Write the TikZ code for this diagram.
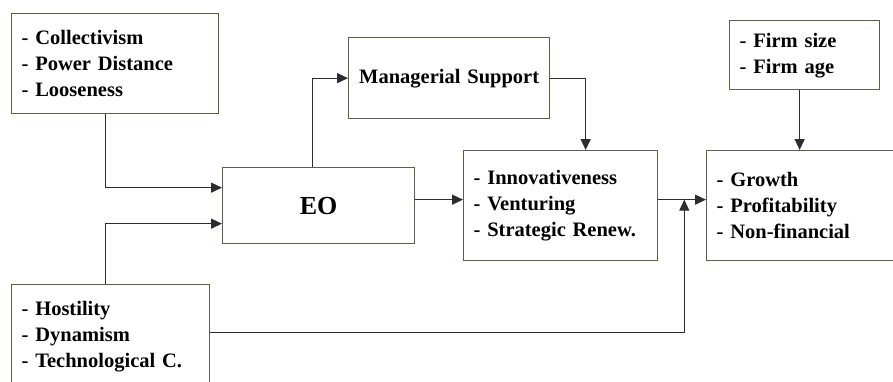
\documentclass[tikz,border=0pt]{standalone}
\usepackage{fontspec}
\setmainfont{Liberation Serif}
\definecolor{boxline}{RGB}{95, 95, 65}
\definecolor{linkgray}{RGB}{45, 45, 45}
\usepackage{tikz}
\usetikzlibrary{arrows.meta, positioning}

\begin{document}
\begin{tikzpicture}[x=1pt, y=-1pt,
  box/.style={draw=boxline, line width=1.3pt, anchor=north west, inner xsep=10pt, inner ysep=0pt,
    font=\fontsize{20.5}{26}\selectfont\bfseries, align=left},
  link/.style={draw=linkgray, line width=1.3pt, -{Triangle[length=11pt, width=10pt]}}]
  \clip (0, 0) rectangle (893, 381);
  \fill[white] (0, 0) rectangle (893, 381);

  % Boxes
  \node[box, text width=187pt, minimum height=100pt] (culture) at (11, 13) {- Collectivism\\- Power Distance\\- Looseness};
  \node[box, text width=178pt, minimum height=104pt] (env) at (11, 284) {- Hostility\\- Dynamism\\- Technological C.};
  \node[box, text width=172pt, minimum height=76pt, align=center, font=\fontsize{26}{30}\selectfont\bfseries] (eo) at (222, 167) {EO};
  \node[box, text width=181pt, minimum height=81pt, align=center] (mgmt) at (348, 37) {Managerial Support};
  \node[box, text width=174pt, minimum height=110pt] (outcome) at (463, 150) {- Innovativeness\\- Venturing\\- Strategic Renew.};
  \node[box, text width=184pt, minimum height=110pt] (perf) at (706, 150) {- Growth\\- Profitability\\- Non-financial};
  \node[box, text width=130pt, minimum height=69pt] (firm) at (729, 20) {- Firm size\\- Firm age};

  % Links into EO
  \draw[link] ([xshift=-9.5pt]culture.south) |- ([yshift=18pt]eo.west);
  \draw[link] ([xshift=-5pt]env.north) |- ([yshift=-18pt]eo.west);

  % EO to managerial support and outcomes
  \draw[link] ([xshift=-6pt]eo.north) |- (mgmt.west);
  \draw[link] (mgmt.east) -| ([xshift=25pt]outcome.north);
  \draw[link] ([yshift=6pt]eo.east) -- ([yshift=6pt]outcome.west);

  % Links into performance
  \draw[link] ([yshift=6pt]outcome.east) -- ([yshift=6pt]perf.west);
  \coordinate (merge) at ([xshift=26pt, yshift=6pt]outcome.east);
  \draw[link] ([yshift=4pt]env.east) -| (merge);
  \draw[link] ([xshift=-5pt]firm.south) -- ([xshift=-5pt]firm.south |- perf.north);
\end{tikzpicture}
\end{document}
